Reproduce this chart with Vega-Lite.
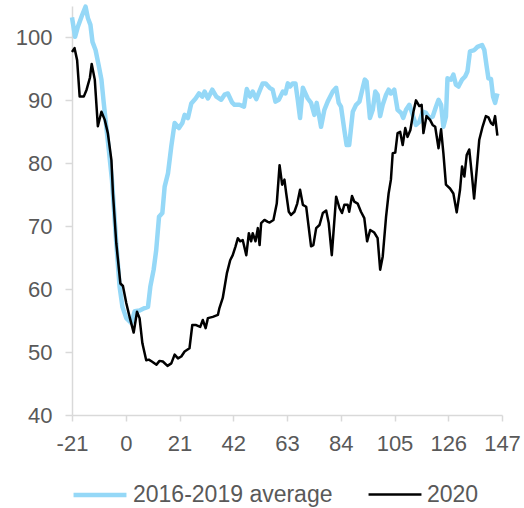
{
  "$schema": "https://vega.github.io/schema/vega-lite/v6.json",
  "autosize": {"type": "none"},
  "width": 430,
  "height": 409,
  "padding": {"left": 72, "top": 6, "right": 22, "bottom": 93},
  "background": "white",
  "config": {
    "view": {"stroke": null},
    "font": "Liberation Sans",
    "axis": {"grid": false, "domainColor": "#d9d9d9", "tickColor": "#d9d9d9", "labelColor": "#595959", "labelFont": "Liberation Sans", "labelFontSize": 22, "title": null, "domainWidth": 1.5, "tickWidth": 1.5, "labelExpr": "'' + datum.value"}
  },
  "data": {"values": [
    {"d":-21,"s":"2016-2019 average","v":103.2},{"d":-19.8,"s":"2016-2019 average","v":100.1},{"d":-18.7,"s":"2016-2019 average","v":101.7},{"d":-17.0,"s":"2016-2019 average","v":103.6},{"d":-15.7,"s":"2016-2019 average","v":104.9},{"d":-14.8,"s":"2016-2019 average","v":103.1},{"d":-13.8,"s":"2016-2019 average","v":102.0},{"d":-13.0,"s":"2016-2019 average","v":99.3},{"d":-11.8,"s":"2016-2019 average","v":98.0},{"d":-10.5,"s":"2016-2019 average","v":95.4},{"d":-9.5,"s":"2016-2019 average","v":93.3},{"d":-8.6,"s":"2016-2019 average","v":89.6},{"d":-7.6,"s":"2016-2019 average","v":85.8},{"d":-6.6,"s":"2016-2019 average","v":82.1},{"d":-5.4,"s":"2016-2019 average","v":77.4},{"d":-3.7,"s":"2016-2019 average","v":67.3},{"d":-2.4,"s":"2016-2019 average","v":60.4},{"d":-1.3,"s":"2016-2019 average","v":57.2},{"d":0.2,"s":"2016-2019 average","v":55.4},{"d":2.2,"s":"2016-2019 average","v":54.6},{"d":3.5,"s":"2016-2019 average","v":56.5},{"d":5.4,"s":"2016-2019 average","v":56.6},{"d":7.4,"s":"2016-2019 average","v":57.0},{"d":8.7,"s":"2016-2019 average","v":57.2},{"d":9.6,"s":"2016-2019 average","v":60.4},{"d":10.9,"s":"2016-2019 average","v":63.1},{"d":11.9,"s":"2016-2019 average","v":66.2},{"d":13.0,"s":"2016-2019 average","v":71.5},{"d":14.3,"s":"2016-2019 average","v":72.1},{"d":15.2,"s":"2016-2019 average","v":76.3},{"d":16.5,"s":"2016-2019 average","v":78.4},{"d":17.8,"s":"2016-2019 average","v":82.7},{"d":19.1,"s":"2016-2019 average","v":86.4},{"d":20.8,"s":"2016-2019 average","v":85.6},{"d":22.1,"s":"2016-2019 average","v":86.4},{"d":23.0,"s":"2016-2019 average","v":87.7},{"d":24.3,"s":"2016-2019 average","v":87.2},{"d":25.6,"s":"2016-2019 average","v":89.5},{"d":27.3,"s":"2016-2019 average","v":90.3},{"d":28.6,"s":"2016-2019 average","v":91.1},{"d":29.9,"s":"2016-2019 average","v":90.6},{"d":30.8,"s":"2016-2019 average","v":91.4},{"d":32.1,"s":"2016-2019 average","v":90.3},{"d":33.8,"s":"2016-2019 average","v":91.7},{"d":35.4,"s":"2016-2019 average","v":90.6},{"d":37.3,"s":"2016-2019 average","v":90.1},{"d":38.6,"s":"2016-2019 average","v":90.9},{"d":39.9,"s":"2016-2019 average","v":91.1},{"d":41.5,"s":"2016-2019 average","v":89.7},{"d":42.5,"s":"2016-2019 average","v":89.3},{"d":44.4,"s":"2016-2019 average","v":89.3},{"d":46.2,"s":"2016-2019 average","v":89.0},{"d":47.3,"s":"2016-2019 average","v":91.8},{"d":48.6,"s":"2016-2019 average","v":90.6},{"d":49.6,"s":"2016-2019 average","v":91.4},{"d":51.0,"s":"2016-2019 average","v":90.2},{"d":52.3,"s":"2016-2019 average","v":91.5},{"d":53.5,"s":"2016-2019 average","v":92.7},{"d":54.6,"s":"2016-2019 average","v":92.7},{"d":56.2,"s":"2016-2019 average","v":92.0},{"d":57.4,"s":"2016-2019 average","v":91.7},{"d":58.5,"s":"2016-2019 average","v":89.8},{"d":59.8,"s":"2016-2019 average","v":90.1},{"d":61.4,"s":"2016-2019 average","v":91.4},{"d":62.4,"s":"2016-2019 average","v":91.1},{"d":63.3,"s":"2016-2019 average","v":92.7},{"d":64.2,"s":"2016-2019 average","v":92.2},{"d":65.2,"s":"2016-2019 average","v":92.7},{"d":66.3,"s":"2016-2019 average","v":92.7},{"d":67.2,"s":"2016-2019 average","v":90.1},{"d":68.1,"s":"2016-2019 average","v":87.2},{"d":69.2,"s":"2016-2019 average","v":92.0},{"d":70.2,"s":"2016-2019 average","v":91.1},{"d":71.1,"s":"2016-2019 average","v":90.3},{"d":72.4,"s":"2016-2019 average","v":89.6},{"d":73.7,"s":"2016-2019 average","v":87.7},{"d":74.6,"s":"2016-2019 average","v":89.6},{"d":75.7,"s":"2016-2019 average","v":87.2},{"d":76.3,"s":"2016-2019 average","v":85.8},{"d":77.6,"s":"2016-2019 average","v":88.5},{"d":78.9,"s":"2016-2019 average","v":89.8},{"d":80.9,"s":"2016-2019 average","v":91.4},{"d":82.2,"s":"2016-2019 average","v":92.0},{"d":83.2,"s":"2016-2019 average","v":89.6},{"d":84.1,"s":"2016-2019 average","v":89.0},{"d":85.4,"s":"2016-2019 average","v":85.3},{"d":86.3,"s":"2016-2019 average","v":82.9},{"d":87.3,"s":"2016-2019 average","v":82.9},{"d":88.7,"s":"2016-2019 average","v":88.2},{"d":90.0,"s":"2016-2019 average","v":89.3},{"d":91.3,"s":"2016-2019 average","v":89.8},{"d":92.6,"s":"2016-2019 average","v":92.0},{"d":93.4,"s":"2016-2019 average","v":93.3},{"d":94.1,"s":"2016-2019 average","v":93.0},{"d":95.4,"s":"2016-2019 average","v":87.2},{"d":96.5,"s":"2016-2019 average","v":88.5},{"d":97.5,"s":"2016-2019 average","v":91.4},{"d":98.4,"s":"2016-2019 average","v":90.9},{"d":99.4,"s":"2016-2019 average","v":87.5},{"d":100.4,"s":"2016-2019 average","v":89.3},{"d":101.7,"s":"2016-2019 average","v":90.9},{"d":102.7,"s":"2016-2019 average","v":91.7},{"d":103.6,"s":"2016-2019 average","v":91.1},{"d":104.9,"s":"2016-2019 average","v":91.7},{"d":106.2,"s":"2016-2019 average","v":88.5},{"d":107.6,"s":"2016-2019 average","v":88.0},{"d":108.4,"s":"2016-2019 average","v":87.2},{"d":109.5,"s":"2016-2019 average","v":88.5},{"d":110.8,"s":"2016-2019 average","v":89.3},{"d":112.1,"s":"2016-2019 average","v":87.7},{"d":113.4,"s":"2016-2019 average","v":86.1},{"d":114.7,"s":"2016-2019 average","v":86.6},{"d":116.0,"s":"2016-2019 average","v":88.2},{"d":117.3,"s":"2016-2019 average","v":88.0},{"d":118.6,"s":"2016-2019 average","v":87.2},{"d":119.9,"s":"2016-2019 average","v":87.4},{"d":121.2,"s":"2016-2019 average","v":89.0},{"d":122.2,"s":"2016-2019 average","v":90.1},{"d":123.2,"s":"2016-2019 average","v":89.3},{"d":124.1,"s":"2016-2019 average","v":85.8},{"d":125.1,"s":"2016-2019 average","v":87.4},{"d":125.7,"s":"2016-2019 average","v":93.5},{"d":127.1,"s":"2016-2019 average","v":93.3},{"d":128.0,"s":"2016-2019 average","v":94.1},{"d":129.0,"s":"2016-2019 average","v":92.5},{"d":130.0,"s":"2016-2019 average","v":92.2},{"d":131.4,"s":"2016-2019 average","v":93.3},{"d":132.6,"s":"2016-2019 average","v":93.8},{"d":133.5,"s":"2016-2019 average","v":94.6},{"d":134.5,"s":"2016-2019 average","v":97.8},{"d":136.2,"s":"2016-2019 average","v":98.0},{"d":137.4,"s":"2016-2019 average","v":98.5},{"d":139.2,"s":"2016-2019 average","v":98.8},{"d":140.1,"s":"2016-2019 average","v":98.0},{"d":141.0,"s":"2016-2019 average","v":95.4},{"d":141.7,"s":"2016-2019 average","v":93.5},{"d":142.7,"s":"2016-2019 average","v":93.4},{"d":143.5,"s":"2016-2019 average","v":90.6},{"d":144.3,"s":"2016-2019 average","v":89.6},{"d":145.2,"s":"2016-2019 average","v":91.1},
    {"d":-21,"s":"2020","v":97.7},{"d":-20,"s":"2020","v":98.3},{"d":-19,"s":"2020","v":96.4},{"d":-18,"s":"2020","v":90.6},{"d":-16.4,"s":"2020","v":90.6},{"d":-15.3,"s":"2020","v":91.7},{"d":-14,"s":"2020","v":93.6},{"d":-13.3,"s":"2020","v":95.8},{"d":-12.1,"s":"2020","v":93.3},{"d":-10.9,"s":"2020","v":85.9},{"d":-9.5,"s":"2020","v":88.2},{"d":-8.2,"s":"2020","v":86.9},{"d":-7.0,"s":"2020","v":84.8},{"d":-5.6,"s":"2020","v":80.5},{"d":-5.0,"s":"2020","v":75.2},{"d":-3.7,"s":"2020","v":67.3},{"d":-2.1,"s":"2020","v":60.9},{"d":-1.1,"s":"2020","v":60.5},{"d":0.2,"s":"2020","v":57.8},{"d":1.5,"s":"2020","v":55.6},{"d":3.1,"s":"2020","v":53.1},{"d":4.4,"s":"2020","v":56.4},{"d":5.4,"s":"2020","v":55.4},{"d":6.5,"s":"2020","v":51.4},{"d":8.0,"s":"2020","v":48.7},{"d":9.0,"s":"2020","v":48.8},{"d":10.2,"s":"2020","v":48.5},{"d":12.0,"s":"2020","v":48.0},{"d":13.2,"s":"2020","v":48.6},{"d":14.5,"s":"2020","v":48.5},{"d":16.3,"s":"2020","v":47.8},{"d":17.8,"s":"2020","v":48.2},{"d":19.1,"s":"2020","v":49.6},{"d":20.4,"s":"2020","v":49.0},{"d":21.7,"s":"2020","v":49.3},{"d":23.0,"s":"2020","v":50.1},{"d":24.9,"s":"2020","v":50.6},{"d":26.0,"s":"2020","v":54.3},{"d":27.5,"s":"2020","v":54.3},{"d":29.1,"s":"2020","v":54.0},{"d":30.1,"s":"2020","v":55.1},{"d":31.2,"s":"2020","v":53.8},{"d":32.1,"s":"2020","v":55.4},{"d":34.0,"s":"2020","v":55.6},{"d":36.0,"s":"2020","v":55.9},{"d":36.6,"s":"2020","v":57.0},{"d":37.9,"s":"2020","v":58.6},{"d":39.5,"s":"2020","v":62.5},{"d":40.8,"s":"2020","v":64.6},{"d":41.8,"s":"2020","v":65.4},{"d":42.9,"s":"2020","v":66.8},{"d":43.8,"s":"2020","v":68.1},{"d":44.7,"s":"2020","v":67.6},{"d":45.7,"s":"2020","v":67.8},{"d":47.1,"s":"2020","v":65.4},{"d":48.1,"s":"2020","v":68.9},{"d":49.0,"s":"2020","v":67.6},{"d":49.6,"s":"2020","v":68.9},{"d":50.7,"s":"2020","v":67.6},{"d":51.6,"s":"2020","v":69.7},{"d":52.3,"s":"2020","v":67.0},{"d":52.9,"s":"2020","v":70.5},{"d":54.2,"s":"2020","v":71.0},{"d":55.5,"s":"2020","v":70.7},{"d":56.2,"s":"2020","v":70.6},{"d":57.7,"s":"2020","v":71.0},{"d":59.0,"s":"2020","v":73.6},{"d":60.1,"s":"2020","v":79.7},{"d":61.1,"s":"2020","v":76.6},{"d":62.0,"s":"2020","v":77.4},{"d":62.7,"s":"2020","v":75.2},{"d":63.7,"s":"2020","v":72.3},{"d":64.6,"s":"2020","v":71.8},{"d":65.9,"s":"2020","v":72.3},{"d":67.0,"s":"2020","v":73.6},{"d":68.1,"s":"2020","v":75.8},{"d":69.2,"s":"2020","v":73.4},{"d":70.5,"s":"2020","v":73.1},{"d":72.4,"s":"2020","v":66.8},{"d":73.3,"s":"2020","v":67.0},{"d":74.4,"s":"2020","v":69.7},{"d":75.7,"s":"2020","v":70.2},{"d":77.0,"s":"2020","v":72.1},{"d":78.3,"s":"2020","v":72.5},{"d":79.3,"s":"2020","v":70.5},{"d":80.5,"s":"2020","v":65.4},{"d":82.2,"s":"2020","v":74.7},{"d":83.5,"s":"2020","v":72.9},{"d":84.5,"s":"2020","v":72.1},{"d":85.4,"s":"2020","v":73.4},{"d":86.7,"s":"2020","v":73.4},{"d":87.3,"s":"2020","v":72.3},{"d":88.4,"s":"2020","v":74.8},{"d":89.3,"s":"2020","v":73.9},{"d":90.6,"s":"2020","v":73.6},{"d":91.9,"s":"2020","v":72.3},{"d":93.2,"s":"2020","v":71.3},{"d":94.3,"s":"2020","v":67.6},{"d":95.5,"s":"2020","v":69.4},{"d":97.1,"s":"2020","v":69.0},{"d":98.4,"s":"2020","v":68.1},{"d":99.4,"s":"2020","v":63.1},{"d":100.4,"s":"2020","v":65.2},{"d":101.7,"s":"2020","v":71.5},{"d":102.7,"s":"2020","v":75.2},{"d":103.6,"s":"2020","v":77.4},{"d":104.3,"s":"2020","v":81.6},{"d":105.3,"s":"2020","v":81.7},{"d":106.2,"s":"2020","v":84.8},{"d":107.2,"s":"2020","v":85.0},{"d":108.2,"s":"2020","v":82.9},{"d":109.2,"s":"2020","v":85.6},{"d":110.1,"s":"2020","v":84.2},{"d":111.2,"s":"2020","v":85.3},{"d":112.4,"s":"2020","v":88.2},{"d":113.4,"s":"2020","v":90.0},{"d":114.7,"s":"2020","v":89.1},{"d":115.6,"s":"2020","v":89.3},{"d":116.3,"s":"2020","v":84.8},{"d":117.5,"s":"2020","v":87.5},{"d":118.9,"s":"2020","v":86.9},{"d":119.9,"s":"2020","v":86.1},{"d":120.9,"s":"2020","v":85.8},{"d":122.2,"s":"2020","v":82.4},{"d":123.2,"s":"2020","v":85.4},{"d":124.1,"s":"2020","v":81.6},{"d":125.1,"s":"2020","v":76.6},{"d":126.7,"s":"2020","v":76.0},{"d":128.0,"s":"2020","v":75.2},{"d":129.3,"s":"2020","v":72.2},{"d":130.6,"s":"2020","v":75.8},{"d":131.4,"s":"2020","v":79.5},{"d":132.3,"s":"2020","v":77.9},{"d":133.2,"s":"2020","v":81.3},{"d":134.2,"s":"2020","v":82.2},{"d":135.3,"s":"2020","v":77.9},{"d":136.1,"s":"2020","v":74.4},{"d":137.1,"s":"2020","v":78.9},{"d":138.1,"s":"2020","v":83.7},{"d":139.4,"s":"2020","v":85.8},{"d":140.7,"s":"2020","v":87.5},{"d":141.7,"s":"2020","v":87.3},{"d":142.7,"s":"2020","v":86.4},{"d":143.5,"s":"2020","v":86.1},{"d":144.3,"s":"2020","v":87.5},{"d":145.2,"s":"2020","v":84.4}
  ]},
  "mark": {"type": "line", "strokeJoin": "round"},
  "encoding": {
    "x": {"field": "d", "type": "quantitative", "scale": {"domain": [-21, 147], "nice": false, "zero": false}, "axis": {"values": [-21, 0, 21, 42, 63, 84, 105, 126, 147], "tickSize": 6, "labelPadding": 12, "labelFlush": false}},
    "y": {"field": "v", "type": "quantitative", "scale": {"domain": [40, 105], "nice": false, "zero": false}, "axis": {"values": [40, 50, 60, 70, 80, 90, 100], "tickSize": 7, "labelPadding": 13}},
    "color": {"field": "s", "type": "nominal", "scale": {"domain": ["2016-2019 average", "2020"], "range": ["#95d8f7", "#000000"]},
      "legend": {"title": null, "orient": "none", "legendX": -1, "legendY": 460, "direction": "horizontal", "symbolType": "stroke", "symbolSize": 2800, "labelFontSize": 23, "labelColor": "#595959", "labelFont": "Liberation Sans", "labelLimit": 400, "columnPadding": 30, "labelOffset": 4}},
    "strokeWidth": {"field": "s", "type": "ordinal", "scale": {"domain": ["2016-2019 average", "2020"], "range": [4.5, 2.5]}}
  }
}
